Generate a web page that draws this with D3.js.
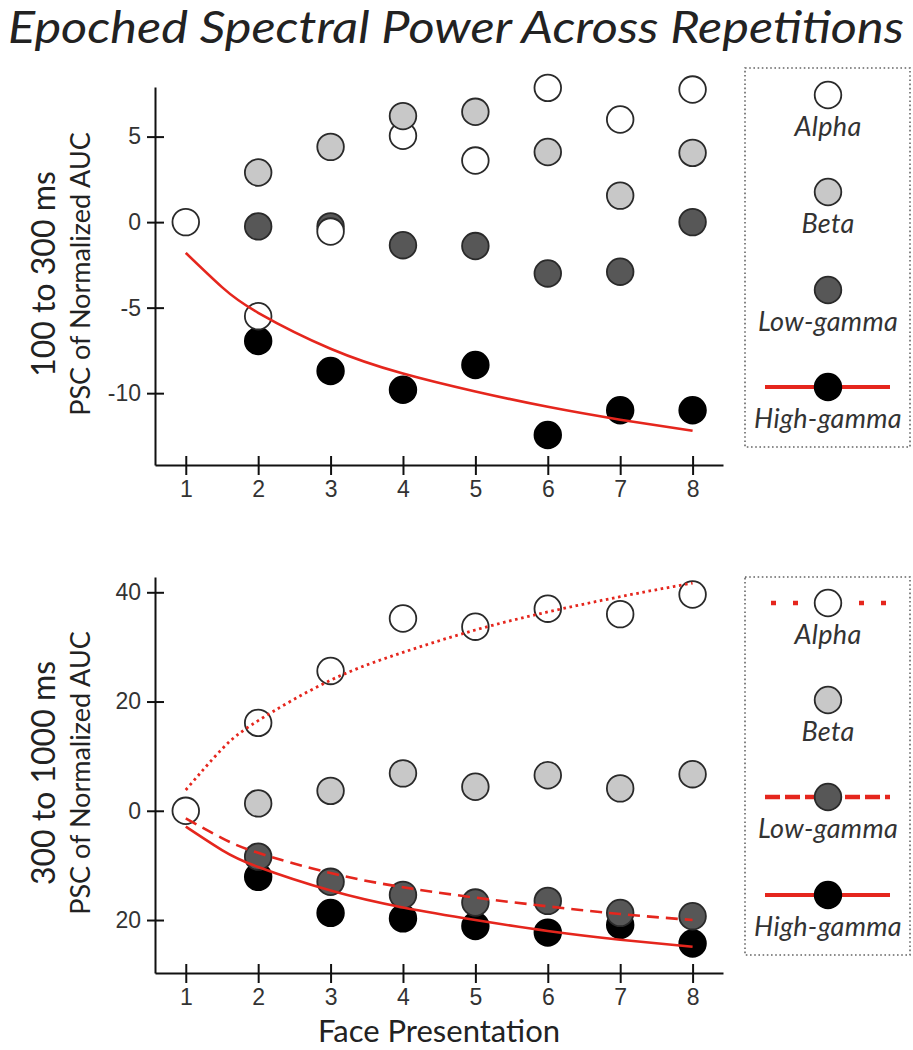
<!DOCTYPE html>
<html>
<head>
<meta charset="utf-8">
<script src="https://cdn.jsdelivr.net/npm/d3@7"></script>
<style>
  html, body { margin: 0; padding: 0; background: #fff; }
  svg { display: block; font-family: Lato, "Open Sans", sans-serif; }
</style>
</head>
<body>
<svg id="chart" width="913" height="1050"></svg>
<script>
// presentations on the x axis
const presentations = [1, 2, 3, 4, 5, 6, 7, 8];
const bandNames = ["Alpha", "Beta", "Low-gamma", "High-gamma"];

// 100 to 300 ms window (PSC of normalized AUC)
const earlyAlpha = [0, -5.5, -0.55, 5.05, 3.6, 7.85, 6.0, 7.75];
const earlyBeta = [0, 2.9, 4.4, 6.2, 6.45, 4.1, 1.55, 4.05];
const earlyLowGamma = [0, -0.25, -0.25, -1.35, -1.4, -3.0, -2.9, 0.0];
const earlyHighGamma = [0, -6.95, -8.7, -9.8, -8.35, -12.45, -11.0, -11.0];

// 300 to 1000 ms window
const lateAlpha = [0, 16.1, 25.6, 35.2, 33.7, 37.0, 36.0, 39.6];
const lateBeta = [0, 1.35, 3.65, 6.85, 4.4, 6.5, 4.1, 6.7];
const lateLowGamma = [0, -8.4, -13.0, -15.4, -16.8, -16.5, -18.7, -19.3];
const lateHighGamma = [0, -12.1, -18.7, -19.7, -21.1, -22.3, -20.9, -24.3];

// fitted curves
const fitX = [1, 1.5, 2, 3, 4, 5, 6, 7, 8];
const earlyHighGammaFit = [-1.8, -3.8, -5.3, -7.4, -8.85, -9.9, -10.8, -11.55, -12.2];
const lateAlphaFit = [3.8, 11.3, 16.5, 23.9, 29.0, 33.1, 36.4, 39.2, 41.7];
const lateLowGammaFit = [-1.4, -5.0, -7.7, -11.4, -14.0, -15.9, -17.5, -18.9, -20.0];
const lateHighGammaFit = [-2.9, -7.2, -10.3, -14.6, -17.7, -20.0, -22.0, -23.6, -24.9];

// tick values / labels
const earlyTicks = [5, 0, -5, -10];
const earlyTickLabels = ["5", "0", "-5", "-10"];
const lateTicks = [40, 20, 0, -20];
const lateTickLabels = ["40", "20", "0", "20"];

const fills = { "Alpha": "#ffffff", "Beta": "#c8c8c8", "Low-gamma": "#575757", "High-gamma": "#000000" };
const strokes = { "Alpha": "#2a2a2a", "Beta": "#2a2a2a", "Low-gamma": "#2a2a2a", "High-gamma": "#000000" };
const red = "#e5261d";
const dashes = { solid: null, dash: "12,7", dot: "2.6,3.6" };
const legendDashes = { solid: null, dash: "15,5", dot: "5,17" };
// order the markers are stacked in
const drawOrder = ["High-gamma", "Low-gamma", "Alpha", "Beta"];

const svg = d3.select("#chart");

svg.append("text")
  .attr("x", 456).attr("y", 43)
  .attr("text-anchor", "middle")
  .attr("font-size", 44)
  .attr("font-style", "italic")
  .attr("fill", "#222")
  .attr("textLength", 896)
  .attr("lengthAdjust", "spacingAndGlyphs")
  .text("Epoched Spectral Power Across Repetitions");

const xScale = d3.scaleLinear().domain([0.575, 8.42]).range([155, 723]);

const panels = [
  {
    title: "100 to 300 ms",
    yDomain: [-14.2, 7.9], yRange: [465, 87],
    ticks: earlyTicks, tickLabels: earlyTickLabels,
    series: { "Alpha": earlyAlpha, "Beta": earlyBeta, "Low-gamma": earlyLowGamma, "High-gamma": earlyHighGamma },
    fits: [{ values: earlyHighGammaFit, style: "solid" }],
    legendStyle: { "High-gamma": "solid" },
    box: [745, 68, 910, 447],
    legendY: [95, 192, 290, 387]
  },
  {
    title: "300 to 1000 ms",
    yDomain: [-29.7, 42.8], yRange: [973, 577],
    ticks: lateTicks, tickLabels: lateTickLabels,
    series: { "Alpha": lateAlpha, "Beta": lateBeta, "Low-gamma": lateLowGamma, "High-gamma": lateHighGamma },
    fits: [
      { values: lateAlphaFit, style: "dot" },
      { values: lateLowGammaFit, style: "dash" },
      { values: lateHighGammaFit, style: "solid" }
    ],
    legendStyle: { "Alpha": "dot", "Low-gamma": "dash", "High-gamma": "solid" },
    box: [745, 577, 910, 955],
    legendY: [603, 700, 797, 895]
  }
];

panels.forEach((p) => {
  const yScale = d3.scaleLinear().domain(p.yDomain).range(p.yRange);
  const g = svg.append("g");
  const midY = (p.yRange[0] + p.yRange[1]) / 2 - 2;

  // axes
  const yAxis = d3.axisLeft(yScale)
    .tickValues(p.ticks)
    .tickFormat((d, i) => p.tickLabels[i])
    .tickSize(8).tickSizeOuter(0).tickPadding(6);
  const yG = g.append("g").attr("transform", `translate(${xScale.range()[0]},0)`).call(yAxis);

  const xAxis = d3.axisBottom(xScale)
    .tickValues(presentations)
    .tickFormat(d3.format("d"))
    .tickSize(10).tickSizeOuter(0).tickPadding(6);
  const xG = g.append("g").attr("transform", `translate(0,${p.yRange[0]})`).call(xAxis);

  yG.selectAll(".tick line").attr("x1", 9).attr("x2", -8);
  xG.selectAll(".tick line").attr("y1", -9).attr("y2", 10);
  [xG, yG].forEach((a) => {
    a.select(".domain").attr("stroke", "#111").attr("stroke-width", 2);
    a.selectAll(".tick line").attr("stroke", "#111").attr("stroke-width", 2);
    a.selectAll(".tick text").attr("font-size", 23).attr("fill", "#333").attr("font-family", null);
  });

  // axis titles
  g.append("text")
    .attr("transform", `translate(42,${midY}) rotate(-90)`)
    .attr("text-anchor", "middle").attr("dominant-baseline", "central")
    .attr("font-size", 32).attr("fill", "#222")
    .text(p.title);
  g.append("text")
    .attr("transform", `translate(79,${midY}) rotate(-90)`)
    .attr("text-anchor", "middle").attr("dominant-baseline", "central")
    .attr("font-size", 27).attr("fill", "#222")
    .text("PSC of Normalized AUC");

  // markers (presentation 1 is 0 for every band; only the alpha marker shows there)
  drawOrder.forEach((band) => {
    const pts = p.series[band]
      .map((v, i) => ({ x: presentations[i], y: v }))
      .filter((d, i) => band === "Alpha" || i > 0);
    g.selectAll(`.pt-${band}`)
      .data(pts)
      .join("circle")
      .attr("class", `pt-${band}`)
      .attr("cx", (d) => xScale(d.x))
      .attr("cy", (d) => yScale(d.y))
      .attr("r", 13.3)
      .attr("fill", fills[band])
      .attr("stroke", strokes[band])
      .attr("stroke-width", 1.8);
  });

  // fit curves
  const line = d3.line()
    .x((d) => xScale(d[0]))
    .y((d) => yScale(d[1]))
    .curve(d3.curveNatural);
  p.fits.forEach((f) => {
    g.append("path")
      .datum(fitX.map((x, i) => [x, f.values[i]]))
      .attr("d", line)
      .attr("fill", "none")
      .attr("stroke", red)
      .attr("stroke-width", f.style === "dot" ? 2.8 : 2.6)
      .attr("stroke-dasharray", dashes[f.style]);
  });

  // legend
  const [bx0, by0, bx1, by1] = p.box;
  g.append("rect")
    .attr("x", bx0).attr("y", by0)
    .attr("width", bx1 - bx0).attr("height", by1 - by0)
    .attr("fill", "none")
    .attr("stroke", "#666")
    .attr("stroke-width", 1.6)
    .attr("stroke-dasharray", "1.6,2.6");

  const cx = 828;
  bandNames.forEach((band, i) => {
    const cy = p.legendY[i];
    const st = p.legendStyle[band];
    if (st) {
      g.append("line")
        .attr("x1", st === "dot" ? 771 : 765).attr("x2", 890)
        .attr("y1", cy).attr("y2", cy)
        .attr("stroke", red)
        .attr("stroke-width", st === "solid" ? 4 : 4.5)
        .attr("stroke-dasharray", legendDashes[st]);
    }
    g.append("circle")
      .attr("cx", cx).attr("cy", cy).attr("r", 13.3)
      .attr("fill", fills[band])
      .attr("stroke", strokes[band])
      .attr("stroke-width", 1.8);
    g.append("text")
      .attr("x", cx).attr("y", cy + 41)
      .attr("text-anchor", "middle")
      .attr("font-size", 27)
      .attr("letter-spacing", 0.3)
      .attr("font-style", "italic")
      .attr("fill", "#333")
      .text(band);
  });
});

svg.append("text")
  .attr("x", 439).attr("y", 1042)
  .attr("text-anchor", "middle")
  .attr("font-size", 31)
  .attr("fill", "#222")
  .text("Face Presentation");
</script>
</body>
</html>
